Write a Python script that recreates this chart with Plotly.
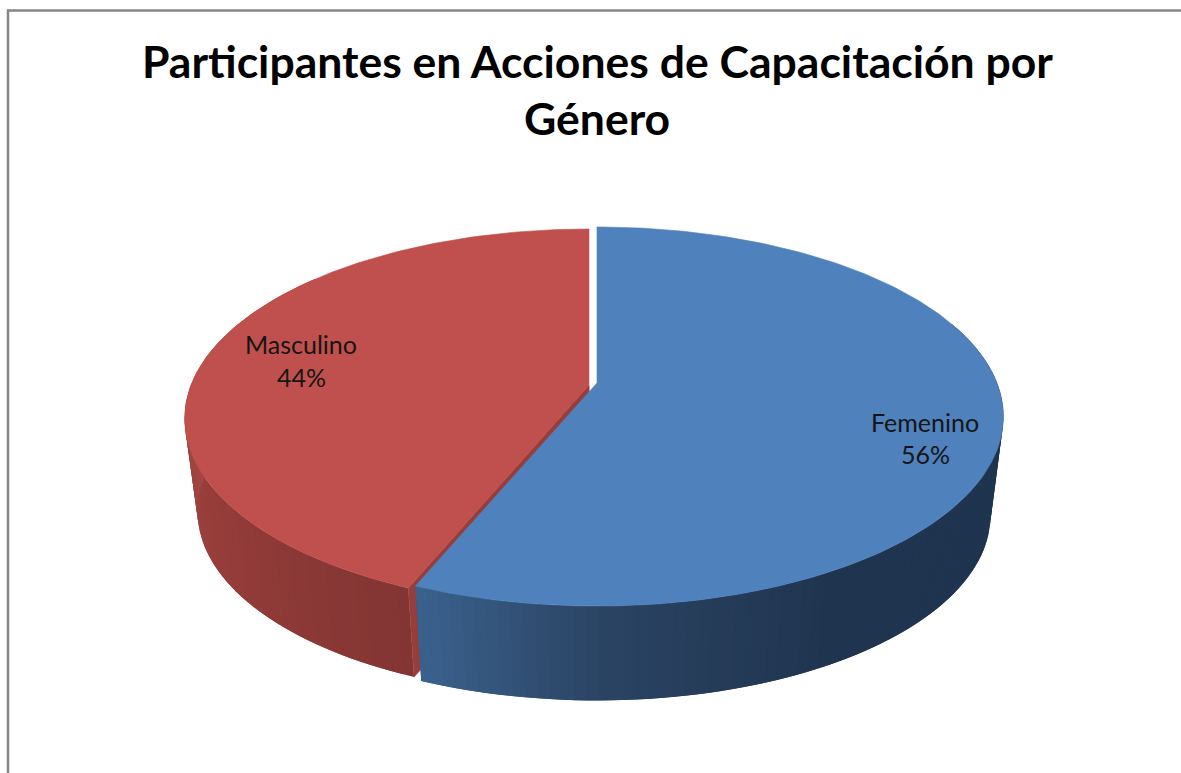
import math
import plotly.graph_objects as go

# ---- data ----
categories = ["Femenino", "Masculino"]
values = [56.2, 43.8]
title_lines = ["Participantes en Acciones de Capacitación por", "Género"]

top_colors = {"Femenino": "#4f81bd", "Masculino": "#c0504d"}
# wall shading stops: (angle in degrees clockwise from top, colour)
wall_stops = {
    "Femenino": [(70, (31, 52, 78)), (150, (31, 52, 78)), (180, (43, 68, 100)), (203, (59, 99, 144))],
    "Masculino": [(202, (130, 53, 51)), (240, (150, 61, 58)), (285, (167, 75, 71))],
}
cut_color = "#953e3b"
frame_color = "#868686"
label_color = "#151515"

# ---- projection of the tilted disc (perspective) ----
K = 0.1768
GEOM = {
    "Femenino": dict(x0=597, y0=383, yb=483, a=400, b=183.6),
    "Masculino": dict(x0=589, y0=385, yb=479, a=398, b=183.6),
}
SX, SY = 0.968, 0.975
DEG = math.pi / 180


def project(name, deg, bottom=False):
    g = GEOM[name]
    u, v = math.sin(deg * DEG), math.cos(deg * DEG)
    w = 1 + K * v
    if bottom:
        return g["x0"] + SX * g["a"] * u / w, g["yb"] - SY * g["b"] * v / w
    return g["x0"] + g["a"] * u / w, g["y0"] - g["b"] * v / w


def arc(name, d0, d1, bottom=False, step=1.0):
    n = max(2, int(abs(d1 - d0) / step))
    return [project(name, d0 + (d1 - d0) * i / n, bottom) for i in range(n + 1)]


def shade(stops, deg):
    if deg <= stops[0][0]:
        return stops[0][1]
    for (d0, c0), (d1, c1) in zip(stops, stops[1:]):
        if deg <= d1:
            t = (deg - d0) / (d1 - d0)
            return tuple(round(a + (b - a) * t) for a, b in zip(c0, c1))
    return stops[-1][1]


def poly(points, color, name=None, line=0.6):
    xs, ys = zip(*points)
    return go.Scatter(
        x=list(xs) + [xs[0]], y=list(ys) + [ys[0]], mode="lines", fill="toself",
        fillcolor=color, line=dict(color=color, width=line),
        hoverinfo="skip" if name is None else "text", text=name, showlegend=False,
    )


def wall(name, d0, d1, step=1.5):
    """Shaded side wall as overlapping strips, so no seams show between them."""
    out = []
    n = int((d1 - d0) / step)
    for i in range(n):
        a = d0 + (d1 - d0) * i / n
        b = d0 + (d1 - d0) * (i + 1) / n
        r, g, bl = shade(wall_stops[name], (a + b) / 2)
        hi = min(d1, b + step)
        pts = arc(name, a, hi) + arc(name, hi, a, bottom=True)
        out.append(poly(pts, f"rgb({r},{g},{bl})", line=0))
    return out


total = sum(values)
split = values[0] / total * 360
fig = go.Figure()

# red slice: wall, cut face, top
for t in wall("Masculino", split, 310):
    fig.add_trace(t)
gm = GEOM["Masculino"]
fig.add_trace(poly(
    [(gm["x0"], gm["y0"]), project("Masculino", split), project("Masculino", split, True),
     (gm["x0"] + 3, gm["yb"])], cut_color))
fig.add_trace(poly([(gm["x0"], gm["y0"])] + arc("Masculino", split, 360),
                   top_colors["Masculino"], "Masculino"))

# blue slice: wall, top
for t in wall("Femenino", 70, split):
    fig.add_trace(t)
gf = GEOM["Femenino"]
fig.add_trace(poly([(gf["x0"], gf["y0"])] + arc("Femenino", 0, split),
                   top_colors["Femenino"], "Femenino"))

# chart frame
fig.add_trace(go.Scatter(x=[8, 8, 1181], y=[773, 10.5, 10.5], mode="lines",
                         line=dict(color=frame_color, width=2.5),
                         hoverinfo="skip", showlegend=False))

anns = []
for text, y in zip(title_lines, (60, 117)):
    anns.append(dict(x=597, y=y, text=f"<b>{text}</b>", showarrow=False,
                     font=dict(family="Lato", size=44.5, color="#000000")))
label_pos = {"Femenino": (925, 422, 454), "Masculino": (301, 344, 377)}
for name, val in zip(categories, values):
    x, y1, y2 = label_pos[name]
    anns.append(dict(x=x, y=y1, text=name, showarrow=False,
                     font=dict(family="Lato", size=25, color=label_color)))
    anns.append(dict(x=x, y=y2, text=f"{round(val / total * 100)}%", showarrow=False,
                     font=dict(family="Lato", size=25, color=label_color)))

fig.update_layout(
    width=1181, height=773, margin=dict(l=0, r=0, t=0, b=0),
    paper_bgcolor="white", plot_bgcolor="white", showlegend=False, annotations=anns,
    xaxis=dict(range=[0, 1181], visible=False, fixedrange=True),
    yaxis=dict(range=[773, 0], visible=False, fixedrange=True),
)
fig.write_html("out.html", config={"displayModeBar": False},
               post_script="document.body.style.margin='0';document.body.style.overflow='hidden';")
